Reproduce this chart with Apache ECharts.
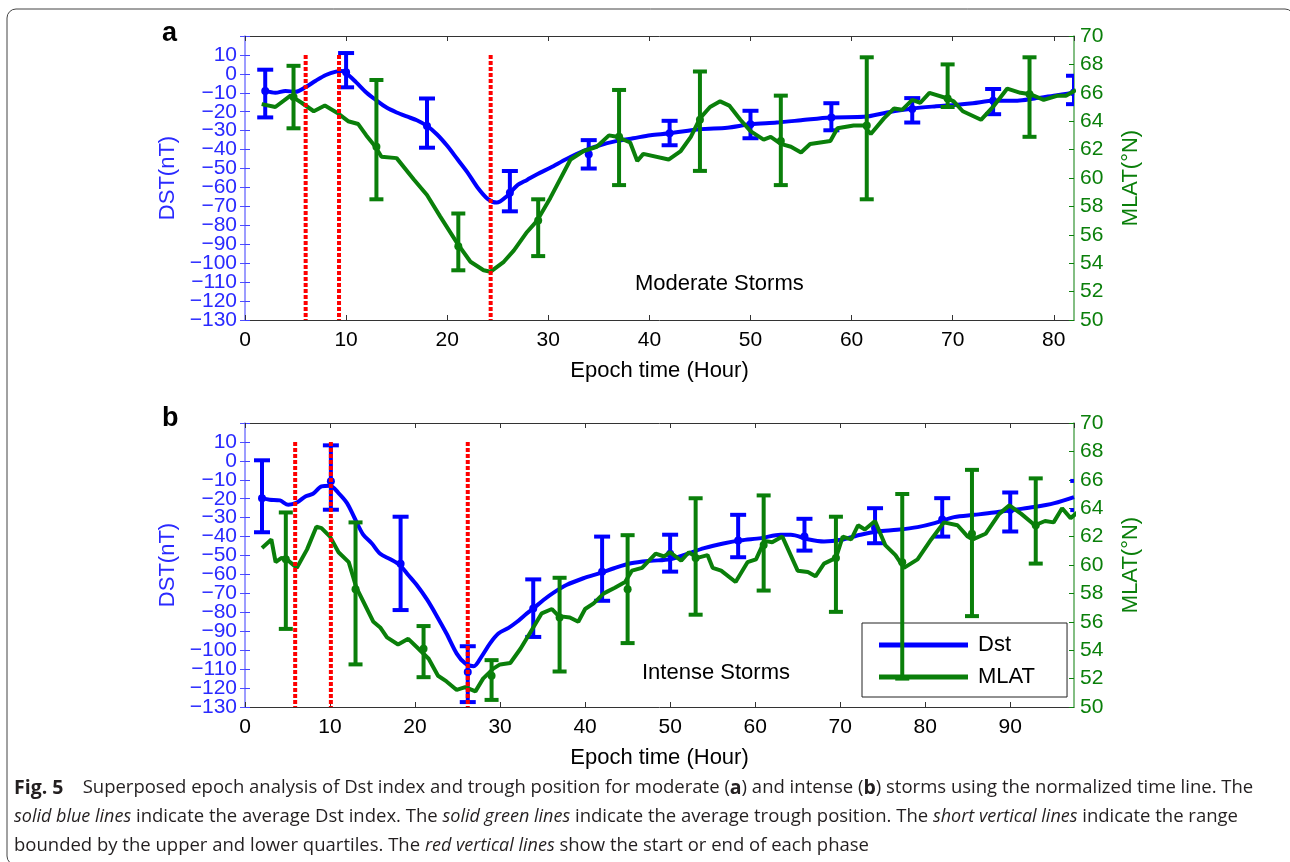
<!DOCTYPE html>
<html>
<head>
<meta charset="utf-8">
<title>Superposed epoch analysis</title>
<script src="https://cdn.jsdelivr.net/npm/echarts@6/dist/echarts.min.js"></script>
<style>
  html, body { margin: 0; padding: 0; background: #fff; }
  #chart { width: 1290px; height: 862px; }
</style>
</head>
<body>
<div id="chart"></div>
<script>
// ---- data ----
// panel a: moderate storms
const dstLineA = [
  [2, -9], [3, -10], [4, -9], [5, -9.5], [6, -7], [7, -3.6], [8, -0.6], [9, 1.2], [9.6, 1.5],
  [10.1, 0], [11, -4.5], [12, -9.8], [13, -14], [14, -17.8], [15, -20.4], [16, -22.5], [17, -24.5],
  [18, -27.5], [19, -32], [20, -38], [21, -45], [22, -52], [23, -60], [24, -66], [24.9, -68],
  [25.9, -64.6], [26.9, -59], [27.9, -56], [28.9, -53], [30.2, -49.6], [31.8, -45], [33.5, -40.7],
  [35.1, -37.7], [36.8, -35.4], [38.4, -34], [40.1, -32.4], [42, -31.4], [45, -29.2], [47.7, -28.4],
  [50, -26.6], [52.6, -25.7], [55, -24.5], [57.9, -23], [61.2, -22.7], [63.5, -20.4], [66, -18.3],
  [68.2, -17.2], [70.1, -16.5], [72, -15.5], [74.1, -14.2], [76.4, -14.2], [78.1, -13], [80, -11.6],
  [82, -9.8],
];
// [hour, lower quartile, upper quartile, mean]
const dstBarsA = [
  [2, -23, 2.2, -9], [10, -7.1, 11, 0.8], [18, -39, -13, -27.5], [26.2, -72.6, -51.3, -62.8],
  [34, -50, -35, -42.5], [42, -37.7, -24.8, -31.4], [50, -34, -19.5, -26.6], [58, -29.8, -15.5, -23],
  [66, -25.7, -12.8, -18.6], [74, -21.3, -8, -14.2], [82, -16, -1, -9.8],
];
const mlatLineA = [
  [1.65, 65.2], [3, 65.0], [4.5, 65.8], [5.6, 65.3], [6.8, 64.7], [7.9, 65.1], [9.1, 64.6],
  [10.2, 64.0], [11.2, 63.8], [12, 63.0], [12.9, 62.2], [13.5, 61.5], [15, 61.4], [16.7, 59.9],
  [18, 58.8], [19.3, 57.3], [21, 55.4], [22.3, 54.1], [23.6, 53.5], [24.3, 53.4], [25.6, 54.1],
  [26.6, 54.9], [27.9, 56.2], [28.9, 57.0], [30.2, 58.6], [32.2, 61.3], [33.5, 61.9], [34.8, 62.2],
  [36, 63.0], [36.8, 62.9], [38.1, 62.5], [38.8, 61.2], [39.4, 61.7], [41.9, 61.3], [43.1, 61.9],
  [44.1, 62.9], [45, 64.2], [46, 65.0], [47, 65.4], [47.9, 65.1], [49, 64.1], [50, 63.3],
  [51.3, 62.7], [52, 62.9], [53, 62.4], [54, 62.2], [55, 61.8], [55.9, 62.4], [57.9, 62.6],
  [58.6, 63.5], [60.2, 63.7], [61.2, 63.7], [61.9, 63.1], [63.2, 64.2], [64.2, 64.9], [65, 64.8],
  [66, 65.5], [66.8, 65.3], [67.7, 66.0], [69.5, 65.6], [70.1, 65.4], [71, 64.7], [72.8, 64.1],
  [74.1, 65.1], [75.4, 66.3], [76.7, 66.0], [77.7, 65.9], [79, 65.5], [80.4, 65.8], [81.2, 65.8],
  [82.2, 66.2],
];
const mlatBarsA = [
  [4.8, 63.5, 67.9, 65.7], [13, 58.5, 66.9, 62.2], [21.1, 53.5, 57.5, 55.2], [29, 54.5, 58.5, 57.0],
  [37, 59.5, 66.2, 62.9], [45, 60.5, 67.5, 64.1], [53, 59.5, 65.8, 62.6], [61.5, 58.5, 68.5, 63.7],
  [69.5, 65.0, 68.0, 65.6], [77.6, 62.9, 68.5, 65.9],
];
const phaseLinesA = [6, 9.3, 24.3];

// panel b: intense storms
const dstLineB = [
  [2, -19.7], [2.9, -20.5], [4.1, -20.9], [5.1, -23.2], [6.1, -22], [7.1, -18.8], [8, -17.4],
  [9, -13.5], [10, -13.1], [11, -17], [12, -22.3], [12.9, -30.3], [13.9, -39], [14.9, -43.5],
  [15.9, -49.1], [17.1, -52], [18.2, -55], [19.2, -60.3], [20.2, -65.6], [21.4, -73.2], [22.5, -81.5],
  [23.7, -91.2], [24.9, -101.8], [25.9, -107], [26.9, -108.5], [27.8, -103.5], [28.8, -96.5],
  [29.8, -91.2], [31, -88.2], [32, -85], [32.9, -81.5], [33.9, -78], [35.1, -73.5], [36.3, -69.6],
  [37.8, -65.6], [39.8, -62], [41.8, -59.2], [43.4, -56.7], [45.4, -54.1], [47.7, -52.8], [50, -52],
  [52, -49.1], [54, -46.1], [56.4, -43.5], [58.3, -42], [60.7, -40.8], [63, -39], [64.2, -39],
  [66.2, -41.4], [68.1, -42.6], [70.1, -41.7], [72.4, -39], [74.4, -37.3], [76.7, -36.4], [79.1, -35],
  [81.1, -32.9], [83.4, -29.7], [85.8, -28.5], [88.1, -27.3], [90.5, -25.8], [92.8, -24.4],
  [95.2, -22.3], [97.5, -19.1],
];
const dstBarsB = [
  [2, -37.7, 0.3, -19.7], [10.1, -25.8, 8.2, -10.8], [18.3, -78.8, -29.5, -54.4],
  [26.2, -127.4, -97.9, -111.5], [33.9, -93, -62.6, -78], [42, -73.9, -40, -58.5],
  [50, -58.5, -39, -49], [58, -50.9, -28.5, -42], [65.8, -47.4, -30.6, -40], [74.1, -43.5, -25, -35.5],
  [82, -40, -19.7, -31], [90, -37.3, -16.7, -25.8], [98, -26, -10.6, -19],
];
const mlatLineB = [
  [2, 61.2], [3.1, 61.8], [3.6, 60.2], [4.3, 60.5], [4.9, 60.4], [6.1, 59.8], [7.3, 61.1],
  [8.4, 62.7], [9, 62.6], [10, 62.0], [11, 60.9], [12.2, 60.2], [13.1, 58.4], [14.1, 57.2],
  [15.1, 56.0], [15.9, 55.6], [16.7, 54.9], [18, 54.4], [19.2, 54.8], [20.4, 54.1], [21.6, 53.4],
  [22.7, 52.2], [23.7, 51.8], [24.9, 51.2], [25.9, 51.4], [27.1, 51.1], [28, 52.0], [29.2, 52.7],
  [30, 53.0], [31.2, 53.1], [32.4, 54.1], [33.5, 55.2], [34.9, 56.6], [36.1, 56.9], [36.9, 56.4],
  [38.2, 56.3], [39.2, 56.0], [40, 56.9], [41, 57.3], [42.2, 58.0], [43.5, 58.4], [44.7, 58.8],
  [45.5, 59.6], [46.7, 59.8], [48.3, 60.8], [49.3, 60.6], [50, 60.9], [51.3, 60.3], [52.2, 60.9],
  [53.2, 60.5], [54.4, 60.7], [55, 59.8], [56, 59.6], [57.7, 58.8], [59.1, 60.2], [60.1, 60.4],
  [61.1, 61.7], [62, 61.6], [63.2, 62.0], [65, 59.6], [66.2, 59.5], [67.1, 59.2], [68.1, 60.1],
  [69.5, 60.5], [70.3, 62.0], [71.3, 61.8], [72.1, 62.8], [72.9, 62.5], [74.1, 63.1], [75.3, 61.4],
  [76.5, 60.7], [77.5, 59.8], [79.1, 60.4], [80.7, 61.8], [82.2, 63.0], [83.8, 62.8], [85, 62.0],
  [85.6, 61.8], [87.1, 62.2], [88.7, 63.6], [89.9, 64.2], [91.3, 63.6], [92.9, 62.8], [94.1, 63.1],
  [95.1, 63.0], [96.1, 64.0], [97.1, 63.3], [97.9, 63.7],
];
const mlatBarsB = [
  [4.8, 55.5, 63.7, 60.4], [13, 53.0, 63.0, 58.3], [21, 52.1, 55.7, 54.1], [29, 50.5, 53.3, 52.2],
  [37, 52.5, 59.1, 56.3], [45, 54.5, 62.1, 58.3], [53, 56.5, 64.7, 60.5], [61, 58.2, 64.9, 61.4],
  [69.5, 56.7, 63.4, 60.5], [77.3, 52.0, 65.0, 60.2], [85.5, 56.4, 66.7, 62.2], [93, 60.1, 66.1, 62.8],
];
const phaseLinesB = [5.9, 10.1, 26.2];

const hourMaxA = 82;
const hourMaxB = 97.5;
const dstTicks = { min: -130, max: 20, step: 10 };
const mlatTicks = { min: 50, max: 70, step: 2 };

// ---- styles ----
const FONT = "'Liberation Sans', Arial, sans-serif";
const BLUE = "#0000ff";
const GREEN = "#0a7f0a";
const RED = "#ff0000";
const DST_LABEL = "#2a2aff";

const minus = (v) => String(v).replace("-", "\u2212");

function errorBarItem(halfCap, lineWidth) {
  return function (params, api) {
    const x = api.value(0);
    const lo = api.coord([x, api.value(1)]);
    const hi = api.coord([x, api.value(2)]);
    const mid = api.coord([x, api.value(3)]);
    const color = api.visual("color");
    const style = { stroke: color, lineWidth: lineWidth, fill: null };
    return {
      type: "group",
      children: [
        { type: "line", shape: { x1: hi[0], y1: hi[1], x2: lo[0], y2: lo[1] }, style: style },
        { type: "line", shape: { x1: hi[0] - halfCap, y1: hi[1], x2: hi[0] + halfCap, y2: hi[1] }, style: style },
        { type: "line", shape: { x1: lo[0] - halfCap, y1: lo[1], x2: lo[0] + halfCap, y2: lo[1] }, style: style },
        { type: "circle", shape: { cx: mid[0], cy: mid[1], r: 4 }, style: { fill: color } },
      ],
    };
  };
}

function phaseLineItem(params, api) {
  const x = api.value(0);
  const top = api.coord([x, api.value(1)]);
  const bottom = api.coord([x, api.value(2)]);
  return {
    type: "line",
    shape: { x1: top[0], y1: top[1], x2: bottom[0], y2: bottom[1] },
    style: { stroke: RED, lineWidth: 4, lineDash: [4, 2] },
  };
}

function xAxes(gridIndex, max) {
  const base = {
    gridIndex: gridIndex,
    type: "value",
    min: 0,
    max: max,
    interval: 10,
    splitLine: { show: false },
    axisLine: { onZero: false, lineStyle: { color: "#333", width: 1 } },
    axisTick: { inside: true, length: 5, lineStyle: { color: "#333" } },
  };
  return [
    Object.assign({}, base, {
      position: "bottom",
      name: "Epoch time (Hour)",
      nameLocation: "middle",
      nameGap: 40,
      nameTextStyle: { color: "#000", fontSize: 22, fontFamily: FONT },
      axisLabel: {
        color: "#000",
        fontSize: 21,
        fontFamily: FONT,
        margin: 10,
        showMaxLabel: max % 10 === 0,
      },
    }),
    Object.assign({}, base, { position: "top", axisLabel: { show: false } }),
  ];
}

function yAxes(gridIndex) {
  return [
    {
      gridIndex: gridIndex,
      type: "value",
      position: "left",
      min: dstTicks.min,
      max: dstTicks.max,
      interval: dstTicks.step,
      name: "DST(nT)",
      nameLocation: "middle",
      nameRotate: 90,
      nameGap: 64,
      nameTextStyle: { color: DST_LABEL, fontSize: 22, fontFamily: FONT },
      splitLine: { show: false },
      axisLine: { onZero: false, lineStyle: { color: "#7b7bff", width: 1.5 } },
      axisTick: { inside: true, length: 5, lineStyle: { color: "#4040ff" } },
      axisLabel: {
        color: DST_LABEL,
        fontSize: 21,
        fontFamily: FONT,
        margin: 8,
        // end labels are drawn by the helper axis below, so no neighbour gets dropped
        formatter: (v) => (v === dstTicks.max || v === dstTicks.min ? "" : minus(v)),
      },
    },
    {
      gridIndex: gridIndex,
      type: "value",
      position: "right",
      min: mlatTicks.min,
      max: mlatTicks.max,
      interval: mlatTicks.step,
      name: "MLAT(°N)",
      nameLocation: "middle",
      nameRotate: 90,
      nameGap: 46,
      nameTextStyle: { color: GREEN, fontSize: 22, fontFamily: FONT },
      splitLine: { show: false },
      axisLine: { onZero: false, lineStyle: { color: "#5aa95a", width: 1.5 } },
      axisTick: { inside: true, length: 5, lineStyle: { color: GREEN } },
      axisLabel: { color: GREEN, fontSize: 21, fontFamily: FONT, margin: 6, showMinLabel: true },
    },
    {
      // left-axis ticks repeated on the right edge
      gridIndex: gridIndex,
      type: "value",
      position: "right",
      min: dstTicks.min,
      max: dstTicks.max,
      interval: dstTicks.step,
      splitLine: { show: false },
      axisLine: { show: false },
      axisTick: { inside: true, length: 5, lineStyle: { color: "#5050ff" } },
      axisLabel: { show: false },
    },
    {
      // only the bottom label of the DST axis
      gridIndex: gridIndex,
      type: "value",
      position: "left",
      min: dstTicks.min,
      max: dstTicks.max,
      interval: dstTicks.max - dstTicks.min,
      splitLine: { show: false },
      axisLine: { show: false },
      axisTick: { show: false },
      axisLabel: {
        color: DST_LABEL,
        fontSize: 21,
        fontFamily: FONT,
        margin: 8,
        showMinLabel: true,
        formatter: (v) => (v === dstTicks.min ? minus(v) : ""),
      },
    },
  ];
}

function panelSeries(idx, dstLine, dstBars, mlatLine, mlatBars, phaseLines) {
  const xi = idx * 2;
  const yi = idx * 4;
  return [
    {
      name: "Dst",
      type: "line",
      xAxisIndex: xi,
      yAxisIndex: yi,
      data: dstLine,
      smooth: 0.3,
      showSymbol: false,
      itemStyle: { color: BLUE },
      lineStyle: { color: BLUE, width: 4 },
      z: 2,
    },
    {
      type: "custom",
      xAxisIndex: xi,
      yAxisIndex: yi,
      data: dstBars,
      encode: { x: 0, y: [1, 2, 3] },
      renderItem: errorBarItem(8, 4),
      itemStyle: { color: BLUE },
      clip: true,
      z: 3,
    },
    {
      name: "MLAT",
      type: "line",
      xAxisIndex: xi,
      yAxisIndex: yi + 1,
      data: mlatLine,
      showSymbol: false,
      itemStyle: { color: GREEN },
      lineStyle: { color: GREEN, width: 4 },
      z: 4,
    },
    {
      type: "custom",
      xAxisIndex: xi,
      yAxisIndex: yi + 1,
      data: mlatBars,
      encode: { x: 0, y: [1, 2, 3] },
      renderItem: errorBarItem(7, 4),
      itemStyle: { color: GREEN },
      clip: true,
      z: 5,
    },
    {
      type: "custom",
      xAxisIndex: xi,
      yAxisIndex: yi,
      data: phaseLines.map((h) => [h, 10, dstTicks.min]),
      encode: { x: 0, y: [1, 2] },
      renderItem: phaseLineItem,
      clip: true,
      z: 6,
    },
  ];
}

const captionFont = "'Open Sans', 'Noto Sans', sans-serif";
const captionSize = 18.5;
const captionRich = {
  b: { fontWeight: "bold", fontSize: 19.5, fontFamily: captionFont, fill: "#231f20" },
  i: { fontStyle: "italic", fontSize: 18, fontFamily: captionFont, fill: "#231f20" },
};
function captionLine(text, y) {
  return {
    type: "text",
    left: 14,
    top: y,
    style: {
      text: text,
      fontSize: captionSize,
      fontFamily: captionFont,
      fill: "#231f20",
      rich: captionRich,
    },
  };
}

const chart = echarts.init(document.getElementById("chart"), null, { renderer: "canvas" });

const option = {
  animation: false,
  backgroundColor: "#fff",
  grid: [
    { left: 245, top: 36, width: 829, height: 284 },
    { left: 245, top: 423, width: 829, height: 284 },
  ],
  xAxis: xAxes(0, hourMaxA).concat(xAxes(1, hourMaxB)),
  yAxis: yAxes(0).concat(yAxes(1)),
  legend: {
    data: ["Dst", "MLAT"],
    selectedMode: false,
    orient: "vertical",
    left: 862,
    top: 623,
    padding: [11, 32, 9, 17],
    itemGap: 10,
    itemWidth: 89,
    itemHeight: 5,
    icon: "rect",
    borderColor: "#222",
    borderWidth: 1,
    borderRadius: 0,
    backgroundColor: "#fff",
    textStyle: { color: "#000", fontSize: 22, fontFamily: FONT, padding: [0, 0, 0, 5] },
  },
  series: panelSeries(0, dstLineA, dstBarsA, mlatLineA, mlatBarsA, phaseLinesA).concat(
    panelSeries(1, dstLineB, dstBarsB, mlatLineB, mlatBarsB, phaseLinesB)
  ),
  graphic: [
    {
      type: "rect",
      shape: { x: 7, y: 9, width: 1287, height: 856, r: 9 },
      style: { fill: null, stroke: "#444", lineWidth: 1 },
      silent: true,
    },
    {
      type: "text",
      left: 162,
      top: 20,
      style: { text: "a", fontSize: 27, fontWeight: "bold", fontFamily: FONT, fill: "#000" },
    },
    {
      type: "text",
      left: 162,
      top: 405,
      style: { text: "b", fontSize: 27, fontWeight: "bold", fontFamily: FONT, fill: "#000" },
    },
    {
      type: "text",
      left: 635,
      top: 273,
      style: { text: "Moderate Storms", fontSize: 22, fontFamily: FONT, fill: "#000" },
    },
    {
      type: "text",
      left: 642,
      top: 662,
      style: { text: "Intense Storms", fontSize: 22, fontFamily: FONT, fill: "#000" },
    },
    captionLine(
      "{b|Fig. 5}    Superposed epoch analysis of Dst index and trough position for moderate ({b|a}) and intense ({b|b}) storms using the normalized time line. The",
      778
    ),
    captionLine(
      "{i|solid blue lines} indicate the average Dst index. The {i|solid green lines} indicate the average trough position. The {i|short vertical lines} indicate the range",
      807
    ),
    captionLine(
      "bounded by the upper and lower quartiles. The {i|red vertical lines} show the start or end of each phase",
      836
    ),
  ],
};

chart.setOption(option);
</script>
</body>
</html>
